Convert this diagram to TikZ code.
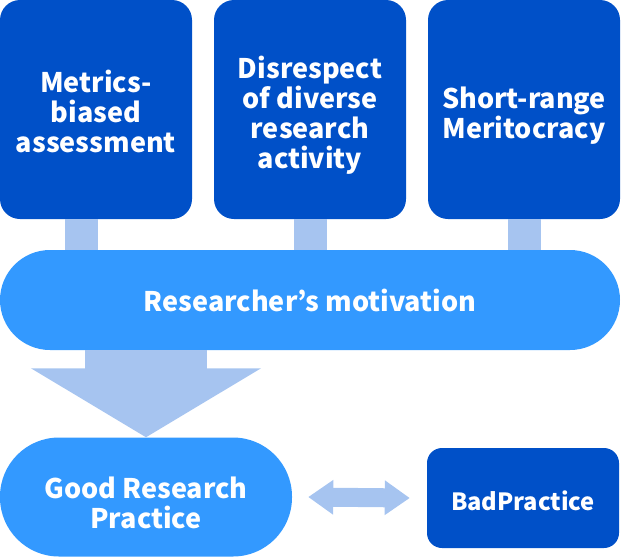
\documentclass[tikz,border=0pt]{standalone}
\usepackage{fontspec}
\setmainfont{Noto Sans CJK JP}
\usetikzlibrary{positioning, arrows.meta}

\definecolor{darkbox}{HTML}{0050C8}
\definecolor{pillblue}{HTML}{3399FF}
\definecolor{linkblue}{HTML}{A6C4F0}

\begin{document}
\begin{tikzpicture}[
    x=1pt, y=-1pt,
    font=\bfseries\fontsize{27}{29.7}\selectfont,
    cause/.style={
        rectangle,
        rounded corners=20pt,
        fill=darkbox,
        text=white,
        minimum width=192pt,
        minimum height=219pt,
        align=center,
        text depth=0pt,
        inner sep=0pt
    },
    pill/.style={
        rectangle,
        rounded corners=50pt,
        fill=pillblue,
        text=white,
        align=center,
        text depth=0pt,
        inner sep=0pt
    },
    link/.style={linkblue, line width=33pt},
    bigarr/.style={linkblue, line width=122pt, -{Triangle[length=69pt, width=227pt]}},
    duoarr/.style={linkblue, line width=19pt, {Triangle[length=25pt, width=33pt]}-{Triangle[length=25pt, width=33pt]}}
]
\useasboundingbox (0,0) rectangle (621,558);

% three causes on top
\node[cause, text height=85pt] (metrics) at (96,109.5) {Metrics-\\biased\\assessment};
\node[cause, text height=117pt] (diverse) at (310,109.5) {Disrespect\\of diverse\\research\\activity};
\node[cause, text height=57pt] (shortrange) at (524,109.5) {Short-range\\Meritocracy};

\node[pill, text height=23pt, minimum width=620pt, minimum height=100pt] (motivation) at (310,300)
    {Researcher’s motivation};

% outcomes
\node[pill, text height=62pt, rounded corners=59pt, minimum width=292pt, minimum height=119pt] (good) at (146,497)
    {Good Research\\Practice};

\node[cause, text height=24pt, rounded corners=15pt, minimum width=192pt, minimum height=100pt,
      font=\bfseries\fontsize{23.7}{28}\selectfont] (bad) at (523,498) {BadPractice};

\draw[link] ([xshift=-15pt]metrics.south) -- ([xshift=-15pt]metrics.south |- motivation.north);
\draw[link] (diverse.south) -- (diverse.south |- motivation.north);
\draw[link] (shortrange.south) -- (shortrange.south |- motivation.north);

\draw[bigarr] (good.north |- motivation.south) -- (good.north);
\draw[duoarr] ([xshift=16pt]good.east) -- ([xshift=-17pt]bad.west);
\end{tikzpicture}
\end{document}
